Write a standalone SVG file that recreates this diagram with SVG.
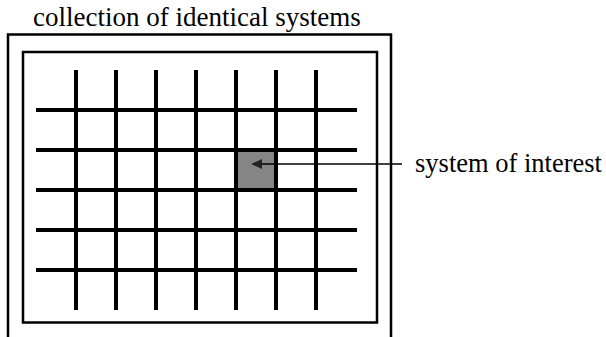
<svg xmlns="http://www.w3.org/2000/svg" width="606" height="337" viewBox="0 0 606 337">
<style>
.t{font-family:"Liberation Serif","Times New Roman",serif;font-size:26.5px;fill:#000}
.frame{fill:none;stroke:#000;stroke-width:2.5}
.grid line{stroke:#000;stroke-width:4}
.lead{stroke:#000;stroke-width:1.5}
</style>
<rect width="606" height="337" fill="#fff"/>
<g id="collection">
<text class="t" x="33" y="26" style="font-family:'Liberation Serif',serif;font-size:27px">collection of identical systems</text>
<path class="frame" d="M8,337 V34.5 H391 V337"/>
<rect class="frame" x="23" y="52" width="354" height="270.5"/>
</g>
<g id="system-of-interest">
<rect x="236" y="150" width="40" height="40" fill="#858585"/>
<text class="t" x="415" y="172">system of interest</text>
</g>
<g id="grid" class="grid">
<line x1="76" y1="70" x2="76" y2="310"/>
<line x1="116" y1="70" x2="116" y2="310"/>
<line x1="156" y1="70" x2="156" y2="310"/>
<line x1="196" y1="70" x2="196" y2="310"/>
<line x1="236" y1="70" x2="236" y2="310"/>
<line x1="276" y1="70" x2="276" y2="310"/>
<line x1="316" y1="70" x2="316" y2="310"/>
<line x1="36" y1="110" x2="357" y2="110"/>
<line x1="36" y1="150" x2="357" y2="150"/>
<line x1="36" y1="190" x2="357" y2="190"/>
<line x1="36" y1="230" x2="357" y2="230"/>
<line x1="36" y1="270" x2="357" y2="270"/>
</g>
<g id="connectors">
<line class="lead" x1="256" y1="164" x2="402" y2="164"/>
<polygon points="251,164 262,159 262,169" fill="#222"/>
</g>
</svg>
